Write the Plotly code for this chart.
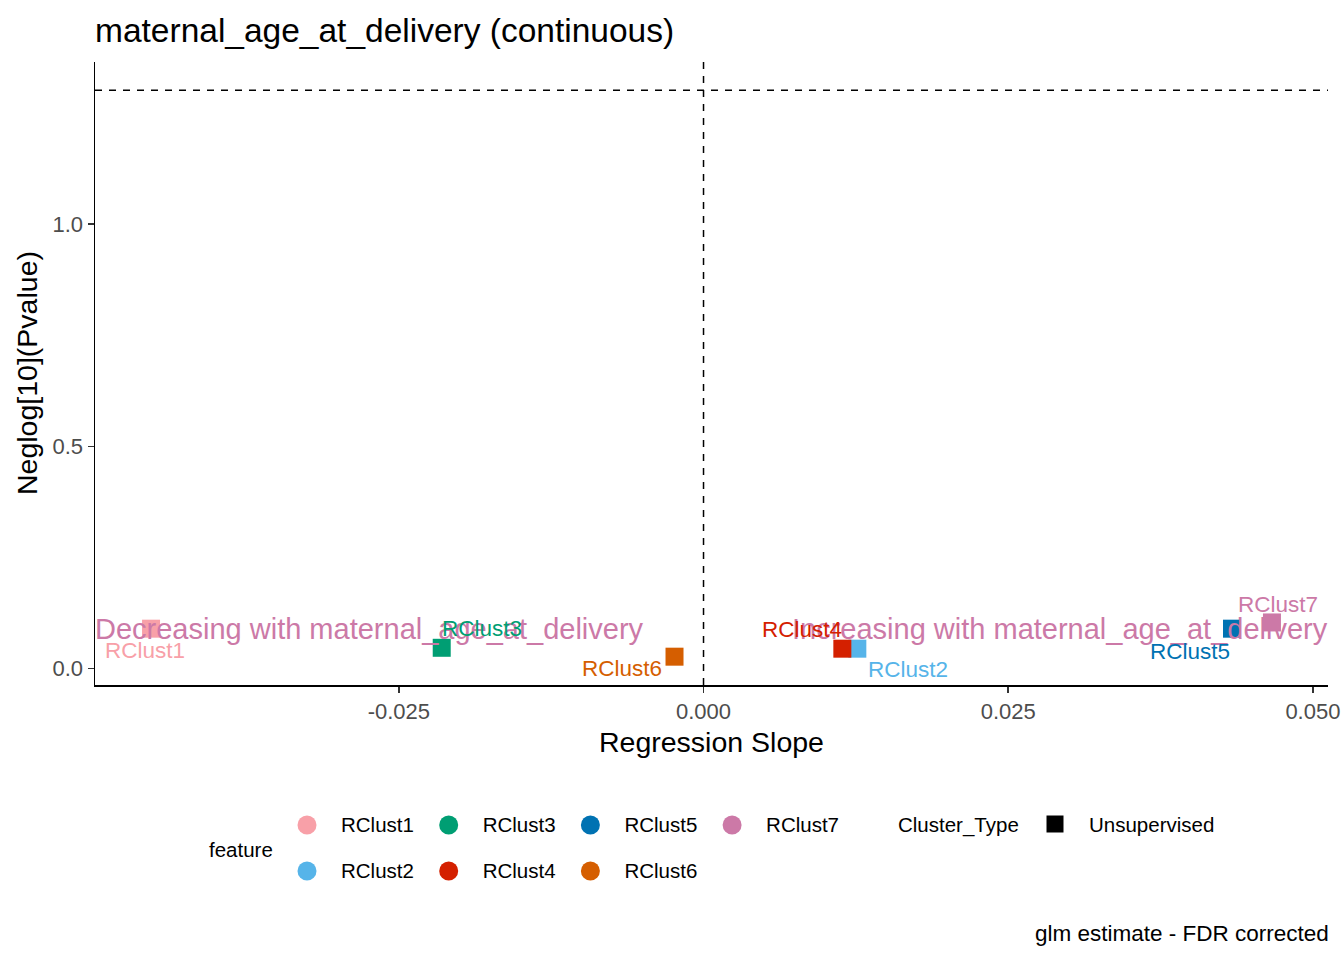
import math
import plotly.graph_objects as go

# cluster results (glm estimate vs -log10 p)
features = ["RClust1", "RClust2", "RClust3", "RClust4", "RClust5", "RClust6", "RClust7"]
slope = [-0.04533, 0.01262, -0.02148, 0.01139, 0.04336, -0.00238, 0.04664]
neglog_p = [0.090, 0.045, 0.047, 0.045, 0.090, 0.027, 0.104]
cluster_type = ["Unsupervised"] * 7

x_ticks = [-0.025, 0.0, 0.025, 0.05]
x_ticklabels = ["-0.025", "0.000", "0.025", "0.050"]
y_ticks = [0.0, 0.5, 1.0]
y_ticklabels = ["0.0", "0.5", "1.0"]

colors = {
    "RClust1": "#F8A0A8",
    "RClust2": "#56B4E9",
    "RClust3": "#009E73",
    "RClust4": "#D42000",
    "RClust5": "#0072B2",
    "RClust6": "#D55E00",
    "RClust7": "#CC79A7",
}

# repelled label offsets in pixels (dx, dy up)
label_offsets = {
    "RClust1": (-6, -22),
    "RClust2": (51, -21),
    "RClust3": (40, 19),
    "RClust4": (-40, 19),
    "RClust5": (-42, -23),
    "RClust6": (-53, -12),
    "RClust7": (6, 18),
}

sig_line = -math.log10(0.05)

# ggplot style 5% expansion
xmin, xmax = min(slope), max(slope)
xpad = (xmax - xmin) * 0.05
x_range = [xmin - xpad, xmax + xpad]
ymin, ymax = min(neglog_p), max(max(neglog_p), sig_line)
ypad = (ymax - ymin) * 0.05
y_range = [ymin - ypad, ymax + ypad]

# layout is planned on a 1344x960 grid; the page renders ~1% narrow, so widen the figure
W, H = 1344, 960
FIG_W = 1356
FONT = "Liberation Sans, Arial, sans-serif"
x_dom = [95 / W, 1328 / W]
y_dom = [1 - 685 / H, 1 - 62 / H]

fig = go.Figure()

for f, x, y in zip(features, slope, neglog_p):
    fig.add_trace(go.Scatter(
        x=[x], y=[y], mode="markers", name=f, showlegend=False,
        marker=dict(symbol="square", size=18, color=colors[f]),
    ))

fig.add_hline(y=sig_line, line=dict(color="black", width=1.5, dash="7px,7px"))
fig.add_vline(x=0, line=dict(color="black", width=1.5, dash="7px,7px"))

annotations = []
# direction labels
annotations.append(dict(
    x=x_dom[0], xref="paper", y=0.09, yref="y", xanchor="left", yanchor="middle",
    text="Decreasing with maternal_age_at_delivery", showarrow=False, xshift=-2,
    font=dict(family=FONT, size=29, color="#CC79A7"),
))
annotations.append(dict(
    x=x_dom[1], xref="paper", y=0.09, yref="y", xanchor="right", yanchor="middle",
    text="Increasing with maternal_age_at_delivery", showarrow=False, xshift=2,
    font=dict(family=FONT, size=29, color="#CC79A7"),
))

for f, x, y in zip(features, slope, neglog_p):
    dx, dy = label_offsets[f]
    annotations.append(dict(
        x=x, y=y, xref="x", yref="y", text=f, showarrow=False,
        xshift=dx, yshift=dy, font=dict(family=FONT, size=22.5, color=colors[f]),
    ))

# legend drawn on a hidden axis below the panel
leg_x, leg_y = [], []
for i, f in enumerate(features):
    col, row = i // 2, i % 2
    leg_x.append(307 + col * 141.7)
    leg_y.append(825 + row * 46)

fig.add_trace(go.Scatter(
    x=leg_x, y=leg_y, xaxis="x2", yaxis="y2", mode="markers", showlegend=False,
    marker=dict(symbol="circle", size=19, color=[colors[f] for f in features]),
    hoverinfo="skip",
))
fig.add_trace(go.Scatter(
    x=[lx + 34 for lx in leg_x], y=[ly + 2 for ly in leg_y], xaxis="x2", yaxis="y2",
    mode="text", text=features, textposition="middle right", showlegend=False,
    textfont=dict(family=FONT, size=20.5, color="black"), hoverinfo="skip",
))
fig.add_trace(go.Scatter(
    x=[1055], y=[824], xaxis="x2", yaxis="y2", mode="markers", showlegend=False,
    marker=dict(symbol="square", size=17, color="black"), hoverinfo="skip",
))
fig.add_trace(go.Scatter(
    x=[1089], y=[827], xaxis="x2", yaxis="y2", mode="text",
    text=[cluster_type[0]], textposition="middle right", showlegend=False,
    textfont=dict(family=FONT, size=20.5, color="black"), hoverinfo="skip",
))

annotations += [
    dict(x=207 / W, y=1 - 849 / H, xref="paper", yref="paper", text="feature",
         xanchor="left", yanchor="middle", showarrow=False,
         font=dict(family=FONT, size=20.5, color="black")),
    dict(x=896 / W, y=1 - 825 / H, xref="paper", yref="paper", text="Cluster_Type",
         xanchor="left", yanchor="middle", showarrow=False,
         font=dict(family=FONT, size=20.5, color="black")),
    dict(x=1331 / W, y=1 - 933 / H, xref="paper", yref="paper",
         text="glm estimate - FDR corrected", xanchor="right", yanchor="middle",
         showarrow=False, font=dict(family=FONT, size=22.5, color="black")),
    dict(x=93 / W, y=1 - 30 / H, xref="paper", yref="paper",
         text="maternal_age_at_delivery (continuous)", xanchor="left", yanchor="middle",
         showarrow=False, font=dict(family=FONT, size=33.5, color="black")),
    dict(x=711.5 / W, y=1 - 742 / H, xref="paper", yref="paper", text="Regression Slope",
         xanchor="center", yanchor="middle", showarrow=False,
         font=dict(family=FONT, size=28.5, color="black")),
    dict(x=27 / W, y=1 - 373 / H, xref="paper", yref="paper", text="Neglog[10](Pvalue)",
         xanchor="center", yanchor="middle", showarrow=False, textangle=-90,
         font=dict(family=FONT, size=28.5, color="black")),
]

fig.update_layout(
    width=FIG_W, height=H, autosize=False,
    margin=dict(l=0, r=0, t=0, b=0),
    paper_bgcolor="white", plot_bgcolor="white",
    font=dict(family=FONT),
    showlegend=False,
    annotations=annotations,
    xaxis=dict(
        domain=x_dom, range=x_range, tickvals=x_ticks, ticktext=x_ticklabels,
        showgrid=False, zeroline=False, showline=True, linecolor="black", linewidth=1.5,
        ticks="outside", ticklen=6, tickcolor="#333333", tickwidth=1.5,
        tickfont=dict(family=FONT, size=22, color="#4D4D4D"), anchor="y",
    ),
    yaxis=dict(
        domain=y_dom, range=y_range, tickvals=y_ticks, ticktext=y_ticklabels,
        showgrid=False, zeroline=False, showline=True, linecolor="black", linewidth=1.5,
        ticks="outside", ticklen=6, tickcolor="#333333", tickwidth=1.5,
        tickfont=dict(family=FONT, size=22, color="#4D4D4D"), anchor="x",
    ),
    xaxis2=dict(domain=[0, 1], range=[0, W], visible=False, anchor="y2", fixedrange=True),
    yaxis2=dict(domain=[0, 1 - 720 / H], range=[H, 720], visible=False, anchor="x2", fixedrange=True),
)

fig.write_html(
    "out.html",
    config={"displayModeBar": False, "staticPlot": True},
    post_script="document.body.style.margin='0px';document.body.style.overflow='hidden';",
)
